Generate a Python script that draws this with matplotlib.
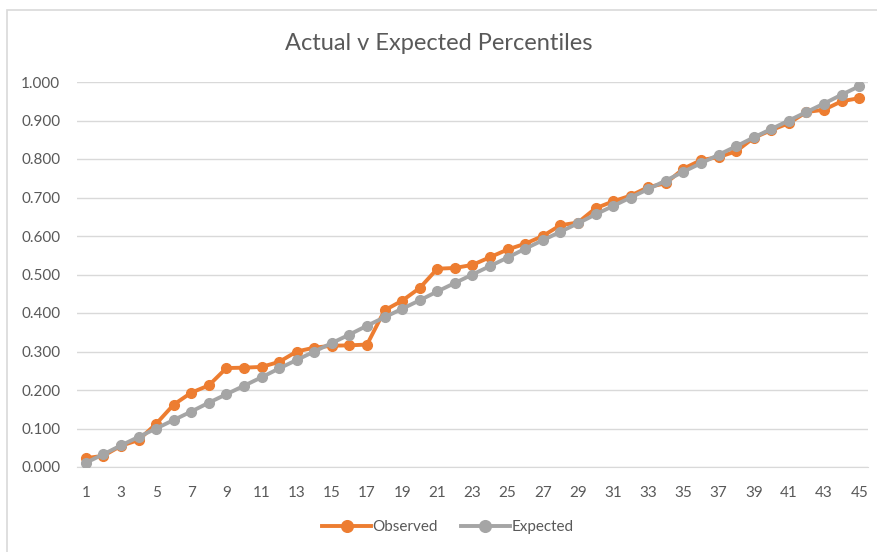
import matplotlib.pyplot as plt
from matplotlib.patches import Rectangle

# percentile ranks for 45 ordered observations
ranks = list(range(1, 46))
observed = [0.023, 0.029, 0.055, 0.070, 0.112, 0.162, 0.193, 0.212, 0.257, 0.258,
            0.260, 0.273, 0.300, 0.310, 0.315, 0.316, 0.318, 0.407, 0.432, 0.465,
            0.515, 0.517, 0.525, 0.545, 0.565, 0.580, 0.600, 0.628, 0.635, 0.672,
            0.690, 0.705, 0.727, 0.737, 0.775, 0.797, 0.805, 0.820, 0.855, 0.875,
            0.893, 0.922, 0.928, 0.950, 0.958]
expected = [0.011, 0.033, 0.056, 0.078, 0.100, 0.122, 0.144, 0.167, 0.189, 0.211,
            0.233, 0.256, 0.278, 0.300, 0.322, 0.344, 0.367, 0.389, 0.411, 0.433,
            0.456, 0.478, 0.500, 0.522, 0.544, 0.567, 0.589, 0.611, 0.633, 0.656,
            0.678, 0.700, 0.722, 0.744, 0.767, 0.789, 0.811, 0.833, 0.856, 0.878,
            0.900, 0.922, 0.944, 0.967, 0.989]
yticks = [0.0, 0.1, 0.2, 0.3, 0.4, 0.5, 0.6, 0.7, 0.8, 0.9, 1.0]

plt.rcParams['font.family'] = ['Lato', 'DejaVu Sans']
text_col = '#595959'

fig = plt.figure(figsize=(8.78, 5.52), dpi=100)
# chart area border, behind everything else
frame = Rectangle((7 / 878, -0.1), 1.0, 1.1 - 10 / 552, transform=fig.transFigure,
                  facecolor='white', edgecolor='#d9d9d9', linewidth=1.2, zorder=-5)
fig.patches.append(frame)
ax = fig.add_axes([77 / 878, (552 - 467) / 552, (868 - 77) / 878, (467 - 82) / 552])
ax.patch.set_alpha(0)

ax.plot(ranks, observed, color='#ed7d31', linewidth=2.8, marker='o', markersize=7,
        label='Observed', zorder=3)
ax.plot(ranks, expected, color='#a5a5a5', linewidth=2.8, marker='o', markersize=7,
        label='Expected', zorder=4)

ax.set_xlim(0.5, 45.5)
ax.set_ylim(0, 1.0)
ax.set_yticks(yticks)
ax.set_yticklabels(['%.3f' % v for v in yticks])
ax.set_xticks(ranks[::2])
ax.grid(axis='y', color='#d9d9d9', linewidth=1)
ax.set_axisbelow(True)
for s in ['top', 'right', 'left']:
    ax.spines[s].set_visible(False)
ax.spines['bottom'].set_color('#d9d9d9')
ax.tick_params(axis='both', length=0, labelsize=11, colors=text_col)
ax.tick_params(axis='y', pad=12)
ax.tick_params(axis='x', pad=14)

fig.text(0.5, 1 - 44 / 552, 'Actual v Expected Percentiles', ha='center', va='center',
         fontsize=17, color=text_col)
fig.legend(loc='center', bbox_to_anchor=(0.51, 1 - 527 / 552), ncol=2, frameon=False,
           fontsize=11, labelcolor=text_col, handlelength=3.2, handletextpad=0.1,
           columnspacing=1.5, markerscale=1.2)

fig.savefig('out.png', dpi=100)
